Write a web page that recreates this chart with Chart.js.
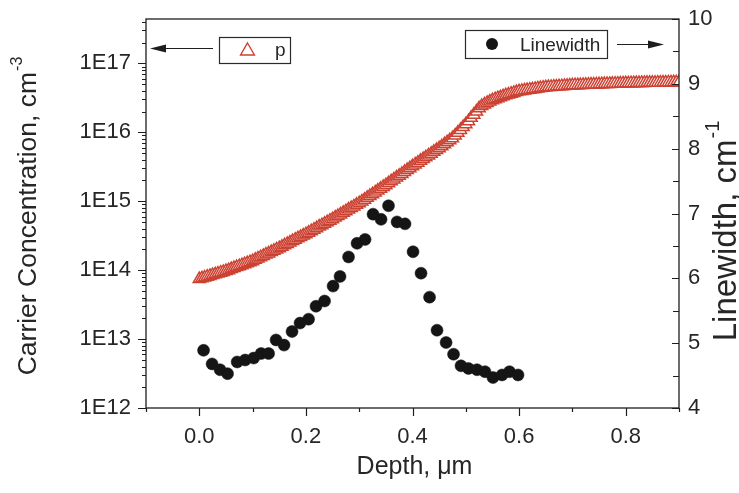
<!DOCTYPE html>
<html><head><meta charset="utf-8">
<script src="https://cdn.jsdelivr.net/npm/chart.js@4"></script>
<style>html,body{margin:0;padding:0;background:#fff;}#wrap{width:739px;height:493px;}</style>
</head><body><div id="wrap"><canvas id="c" width="739" height="493"></canvas></div>
<script>
// ---- data ----
const seriesNames = ['p', 'Linewidth'];
const pDepth = [0.000,0.005,0.010,0.015,0.020,0.025,0.030,0.035,0.040,0.045,0.050,0.055,0.060,0.065,0.070,0.075,0.080,0.085,0.090,0.095,
0.100,0.105,0.110,0.115,0.120,0.125,0.130,0.135,0.140,0.145,0.150,0.155,0.160,0.165,0.170,0.175,0.180,0.185,0.190,0.195,
0.200,0.205,0.210,0.215,0.220,0.225,0.230,0.235,0.240,0.245,0.250,0.255,0.260,0.265,0.270,0.275,0.280,0.285,0.290,0.295,
0.300,0.305,0.310,0.315,0.320,0.325,0.330,0.335,0.340,0.345,0.350,0.355,0.360,0.365,0.370,0.375,0.380,0.385,0.390,0.395,
0.400,0.405,0.410,0.415,0.420,0.425,0.430,0.435,0.440,0.445,0.450,0.455,0.460,0.465,0.470,0.475,0.480,0.485,0.490,0.495,
0.500,0.505,0.510,0.515,0.520,0.525,0.530,0.535,0.540,0.545,0.550,0.555,0.560,0.565,0.570,0.575,0.580,0.585,0.590,0.595,
0.600,0.605,0.610,0.615,0.620,0.625,0.630,0.635,0.640,0.645,0.650,0.655,0.660,0.665,0.670,0.675,0.680,0.685,0.690,0.695,
0.700,0.705,0.710,0.715,0.720,0.725,0.730,0.735,0.740,0.745,0.750,0.755,0.760,0.765,0.770,0.775,0.780,0.785,0.790,0.795,
0.800,0.805,0.810,0.815,0.820,0.825,0.830,0.835,0.840,0.845,0.850,0.855,0.860,0.865,0.870,0.875,0.880,0.885,0.890,0.895,0.900];
const pConc = [7.41e13,7.62e13,7.82e13,8.04e13,8.24e13,8.47e13,8.71e13,8.93e13,9.18e13,9.42e13,9.68e13,1.00e14,1.035e14,1.07e14,1.107e14,1.143e14,1.18e14,1.22e14,1.26e14,1.306e14,
1.35e14,1.41e14,1.47e14,1.54e14,1.61e14,1.68e14,1.75e14,1.83e14,1.91e14,2.00e14,2.08e14,2.18e14,2.29e14,2.40e14,2.51e14,2.64e14,2.76e14,2.89e14,3.03e14,3.18e14,
3.33e14,3.50e14,3.67e14,3.86e14,4.06e14,4.28e14,4.49e14,4.72e14,4.97e14,5.21e14,5.48e14,5.78e14,6.10e14,6.44e14,6.79e14,7.16e14,7.55e14,7.96e14,8.41e14,8.87e14,
9.35e14,9.93e14,1.05e15,1.12e15,1.19e15,1.26e15,1.34e15,1.43e15,1.51e15,1.61e15,1.71e15,1.82e15,1.94e15,2.07e15,2.20e15,2.34e15,2.49e15,2.66e15,2.83e15,3.02e15,
3.21e15,3.41e15,3.62e15,3.85e15,4.08e15,4.34e15,4.61e15,4.90e15,5.20e15,5.52e15,5.86e15,6.27e15,6.70e15,7.16e15,7.66e15,8.18e15,8.99e15,9.86e15,1.08e16,1.19e16,
1.31e16,1.45e16,1.62e16,1.80e16,2.00e16,2.23e16,2.40e16,2.54e16,2.66e16,2.79e16,2.91e16,3.02e16,3.12e16,3.22e16,3.33e16,3.44e16,3.53e16,3.63e16,3.72e16,3.83e16,
3.93e16,3.98e16,4.04e16,4.09e16,4.15e16,4.21e16,4.26e16,4.32e16,4.38e16,4.43e16,4.49e16,4.52e16,4.55e16,4.58e16,4.61e16,4.65e16,4.67e16,4.70e16,4.73e16,4.76e16,
4.80e16,4.82e16,4.83e16,4.85e16,4.87e16,4.88e16,4.90e16,4.92e16,4.93e16,4.95e16,4.97e16,4.98e16,5.00e16,5.02e16,5.03e16,5.05e16,5.06e16,5.08e16,5.10e16,5.11e16,
5.13e16,5.14e16,5.15e16,5.16e16,5.17e16,5.18e16,5.19e16,5.20e16,5.21e16,5.22e16,5.22e16,5.23e16,5.24e16,5.25e16,5.26e16,5.27e16,5.28e16,5.29e16,5.30e16,5.30e16,5.31e16];
const lwDepth = [0.008,0.024,0.039,0.053,0.071,0.086,0.102,0.116,0.130,0.144,0.159,0.174,0.189,0.205,0.219,0.235,0.251,0.264,0.280,0.296,
0.311,0.326,0.341,0.355,0.371,0.386,0.401,0.416,0.432,0.446,0.463,0.477,0.491,0.505,0.521,0.536,0.551,0.568,0.582,0.598];
const lwValues = [4.89,4.68,4.59,4.53,4.71,4.74,4.77,4.84,4.84,5.05,4.97,5.18,5.31,5.37,5.57,5.65,5.88,6.03,6.33,6.54,
6.60,6.99,6.91,7.12,6.87,6.84,6.41,6.08,5.71,5.20,5.01,4.83,4.65,4.61,4.59,4.56,4.47,4.51,4.56,4.51];

const xTickValues = [0, 0.2, 0.4, 0.6, 0.8];
const xTickLabels = ['0.0', '0.2', '0.4', '0.6', '0.8'];
const xMinorTicks = [-0.1, 0.1, 0.3, 0.5, 0.7, 0.9];
const yTickValues = [1e12, 1e13, 1e14, 1e15, 1e16, 1e17];
const yTickLabels = ['1E12', '1E13', '1E14', '1E15', '1E16', '1E17'];
const y2TickValues = [4, 5, 6, 7, 8, 9, 10];
const y2TickLabels = ['4', '5', '6', '7', '8', '9', '10'];
const y2MinorTicks = [4.5, 5.5, 6.5, 7.5, 8.5, 9.5];
const xTitle = 'Depth, \u03bcm';
const yTitle = ['Carrier Concentration, cm', '-3'];
const y2Title = ['Linewidth, cm', '-1'];

// ---- styling ----
const FONT = "'Liberation Sans', Arial, Helvetica, sans-serif";
const TXT = '#262626';
const RED = '#cc4232';
const DOT = '#151515';

const deco = {
  id: 'deco',
  afterDatasetsDraw(chart) {
    const ctx = chart.ctx;
    const xs = chart.scales.x, ys = chart.scales.y, y2 = chart.scales.y2;
    const {left, right, top, bottom} = chart.chartArea;
    ctx.save();
    ctx.strokeStyle = '#1e1e1e';
    ctx.lineWidth = 1.3;
    ctx.strokeRect(left, top, right - left, bottom - top);
    ctx.lineWidth = 1.2;
    ctx.beginPath();
    xTickValues.forEach(v => { const p = Math.round(xs.getPixelForValue(v)) + 0.5; ctx.moveTo(p, bottom); ctx.lineTo(p, bottom + 8); });
    xMinorTicks.forEach(v => { const p = Math.round(xs.getPixelForValue(v)) + 0.5; ctx.moveTo(p, bottom); ctx.lineTo(p, bottom + 4); });
    yTickValues.forEach(v => { const p = Math.round(ys.getPixelForValue(v)) + 0.5; ctx.moveTo(left, p); ctx.lineTo(left - 8, p); });
    for (let d = 12; d <= 17; d++) {
      for (let m = 2; m <= 9; m++) {
        const v = m * Math.pow(10, d);
        if (v > ys.max) break;
        const p = Math.round(ys.getPixelForValue(v)) + 0.5;
        ctx.moveTo(left, p); ctx.lineTo(left - 4, p);
      }
    }
    y2TickValues.forEach(v => { const p = Math.round(y2.getPixelForValue(v)) + 0.5; ctx.moveTo(right, p); ctx.lineTo(right - 7, p); });
    y2MinorTicks.forEach(v => { const p = Math.round(y2.getPixelForValue(v)) + 0.5; ctx.moveTo(right, p); ctx.lineTo(right - 6, p); });
    ctx.stroke();

    // axis titles
    ctx.fillStyle = TXT;
    ctx.font = `25px ${FONT}`;
    ctx.textAlign = 'center'; ctx.textBaseline = 'middle';
    ctx.fillText(xTitle, (left + right) / 2 + 2, 467);
    const rot = (txt, cx, cy, size) => {
      ctx.save();
      ctx.translate(cx, cy); ctx.rotate(-Math.PI / 2);
      ctx.font = `${size}px ${FONT}`;
      const w1 = ctx.measureText(txt[0]).width;
      const ss = Math.round(size * 0.6);
      ctx.font = `${ss}px ${FONT}`;
      const w2 = ctx.measureText(txt[1]).width;
      const x0 = -(w1 + w2 + 1) / 2;
      ctx.textAlign = 'left'; ctx.textBaseline = 'alphabetic';
      const base = size * 0.36;
      ctx.font = `${size}px ${FONT}`;
      ctx.fillText(txt[0], x0, base);
      ctx.font = `${ss}px ${FONT}`;
      ctx.fillText(txt[1], x0 + w1 + 1, base - size * 0.52);
      ctx.restore();
    };
    rot(yTitle, 26, 216, 26.5);
    rot(y2Title, 724, 231, 33);

    // legend boxes
    ctx.strokeStyle = '#2a2a2a'; ctx.lineWidth = 1.2;
    ctx.strokeRect(219.5, 37.5, 71, 26);
    ctx.strokeRect(465.5, 30.5, 142, 28);
    // triangle marker
    const r = 8, tx = 247.5, ty = 51;
    ctx.beginPath();
    ctx.moveTo(tx, ty - r);
    ctx.lineTo(tx + r * Math.sin(2 * Math.PI / 3), ty - r * Math.cos(2 * Math.PI / 3));
    ctx.lineTo(tx + r * Math.sin(4 * Math.PI / 3), ty - r * Math.cos(4 * Math.PI / 3));
    ctx.closePath();
    ctx.fillStyle = '#fff'; ctx.fill();
    ctx.strokeStyle = RED; ctx.lineWidth = 1.4; ctx.stroke();
    // dot marker
    ctx.beginPath(); ctx.arc(492, 44, 6, 0, Math.PI * 2); ctx.fillStyle = DOT; ctx.fill();
    // legend text
    ctx.fillStyle = TXT; ctx.font = `19px ${FONT}`;
    ctx.textAlign = 'left'; ctx.textBaseline = 'alphabetic';
    ctx.fillText(seriesNames[0], 275, 56);
    ctx.fillText(seriesNames[1], 520, 51);
    // arrows
    ctx.strokeStyle = '#1e1e1e'; ctx.fillStyle = '#1e1e1e'; ctx.lineWidth = 1.2;
    ctx.beginPath(); ctx.moveTo(213, 48.5); ctx.lineTo(162, 48.5); ctx.stroke();
    ctx.beginPath(); ctx.moveTo(150, 48.5); ctx.lineTo(166, 44.5); ctx.lineTo(166, 52.5); ctx.closePath(); ctx.fill();
    ctx.beginPath(); ctx.moveTo(617, 44.5); ctx.lineTo(652, 44.5); ctx.stroke();
    ctx.beginPath(); ctx.moveTo(664, 44.5); ctx.lineTo(648, 40.5); ctx.lineTo(648, 48.5); ctx.closePath(); ctx.fill();
    ctx.restore();
  }
};

const noPad = s => { s.paddingTop = 0; s.paddingBottom = 0; s.paddingLeft = 0; s.paddingRight = 0; };
const tickFont = {family: FONT, size: 22};
new Chart(document.getElementById('c'), {
  type: 'scatter',
  data: {
    datasets: [
      {
        label: seriesNames[0],
        data: pDepth.map((x, i) => ({x: x, y: pConc[i]})),
        yAxisID: 'y',
        pointStyle: 'triangle',
        pointRadius: 7,
        pointBorderWidth: 1.5,
        pointBorderColor: RED,
        pointBackgroundColor: '#ffffff',
        showLine: false,
        order: 2
      },
      {
        label: seriesNames[1],
        data: lwDepth.map((x, i) => ({x: x, y: lwValues[i]})),
        yAxisID: 'y2',
        pointStyle: 'circle',
        pointRadius: 6,
        pointBorderWidth: 0.5,
        pointBorderColor: DOT,
        pointBackgroundColor: DOT,
        showLine: false,
        order: 1
      }
    ]
  },
  options: {
    responsive: false,
    animation: false,
    devicePixelRatio: 1,
    events: [],
    layout: {padding: {top: 19, left: 0, right: 0, bottom: 0}},
    plugins: {legend: {display: false}, tooltip: {enabled: false}},
    scales: {
      x: {
        type: 'linear', position: 'bottom', min: -0.1, max: 0.9,
        afterBuildTicks: s => { s.ticks = xTickValues.map(v => ({value: v})); },
        afterFit: s => { s.height = 85; noPad(s); },
        grid: {display: false, drawTicks: false},
        border: {display: false},
        ticks: {padding: 16, font: tickFont, color: TXT, maxRotation: 0, autoSkip: false,
          callback: (v, i) => xTickLabels[i]}
      },
      y: {
        type: 'logarithmic', position: 'left', min: 1e12, max: 4.4e17,
        afterBuildTicks: s => { s.ticks = yTickValues.map(v => ({value: v})); },
        afterFit: s => { s.width = 146; noPad(s); },
        grid: {display: false, drawTicks: false},
        border: {display: false},
        ticks: {padding: 15, font: tickFont, color: TXT, autoSkip: false,
          callback: (v, i) => yTickLabels[i]}
      },
      y2: {
        type: 'linear', position: 'right', min: 4, max: 10,
        afterBuildTicks: s => { s.ticks = y2TickValues.map(v => ({value: v})); },
        afterFit: s => { s.width = 60; noPad(s); },
        grid: {display: false, drawTicks: false},
        border: {display: false},
        ticks: {padding: 9, font: tickFont, color: TXT, autoSkip: false,
          callback: (v, i) => y2TickLabels[i]}
      }
    }
  },
  plugins: [deco]
});
</script></body></html>
